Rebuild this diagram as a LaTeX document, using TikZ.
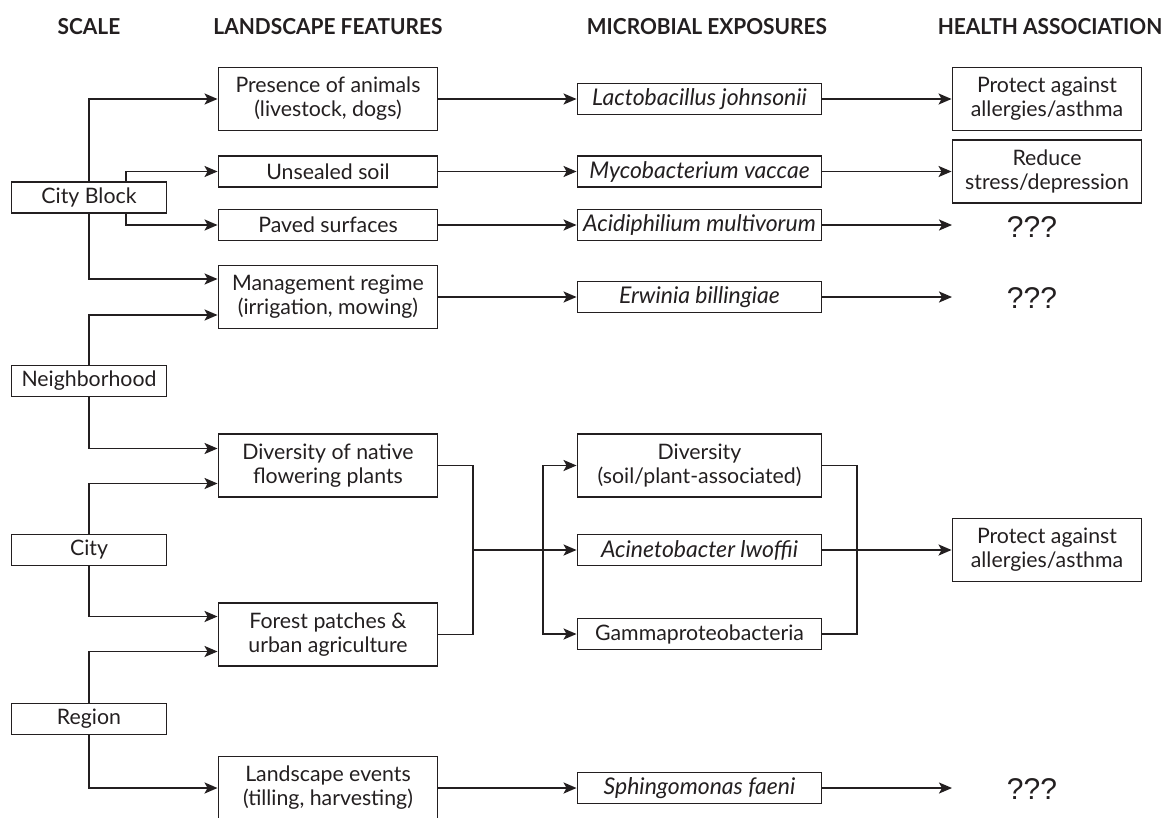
\documentclass[tikz,border=0pt]{standalone}
\usepackage{fontspec}
\setmainfont{Lato}
\newfontfamily\hdrfont[FakeStretch=0.95]{Lato}
\newfontfamily\qfont{Liberation Sans}
\usetikzlibrary{arrows.meta}
\definecolor{ink}{HTML}{231F20}
\newcommand\txtfont{\fontsize{21.3}{24}\selectfont}
\newcommand\itfont{\itshape\fontsize{23}{24}\selectfont}
\newcommand\headfont{\hdrfont\bfseries\fontsize{22}{24}\selectfont}

\begin{document}
\begin{tikzpicture}[x=1pt,y=-1pt,
  every node/.style={text=ink},
  box/.style={draw=ink, line width=1.9pt, inner sep=0pt, align=center, font=\txtfont},
  lvl/.style={box, minimum width=155pt, minimum height=31pt},
  feat/.style={box, minimum width=219pt, minimum height=31pt},
  mic/.style={box, minimum width=244pt, minimum height=31pt},
  hlth/.style={box, minimum width=189pt, minimum height=63pt},
  tall/.style={minimum height=63pt},
  sp/.style={font=\itfont},
  head/.style={font=\headfont, inner sep=0pt},
  qq/.style={font=\qfont\fontsize{30}{30}\selectfont, inner sep=0pt},
  link/.style={draw=ink, line width=1.9pt},
  arr/.style={link, -{Stealth[length=13pt,width=11pt,inset=3pt]}}
]
\useasboundingbox (0,0) rectangle (1166,817);

% column headings
\node[head] (hscale) at (89,27) {SCALE};
\node[head] (hland)  at (328,27) {LANDSCAPE FEATURES};
\node[head] (hmic)   at (707,27) {MICROBIAL EXPOSURES};
\node[head] (hhlth)  at (1050,27) {HEALTH ASSOCIATION};

% spatial scales
\node[lvl] (cityblock) at (89,197.5) {City Block};
\node[lvl] (neigh)     at (89,381)   {Neighborhood};
\node[lvl] (city)      at (89,550)   {City};
\node[lvl] (region)    at (89,719)   {Region};

% landscape features
\node[feat,tall] (animals) at (328,99)    {Presence of animals\\(livestock, dogs)};
\node[feat]      (soil)    at (328,171.5) {Unsealed soil};
\node[feat]      (paved)   at (328,225)   {Paved surfaces};
\node[feat,tall] (mgmt)    at (328,297)   {Management regime\\(irrigation, mowing)};
\node[feat,tall] (native)  at (328,465.5) {Diversity of native\\flowering plants};
\node[feat,tall] (forest)  at (328,634.5) {Forest patches \&\\urban agriculture};
\node[feat,tall] (events)  at (328,788)   {Landscape events\\(tilling, harvesting)};

% microbial exposures
\node[mic,sp] (lacto)   at (699.5,99)    {Lactobacillus johnsonii};
\node[mic,sp] (myco)    at (699.5,171.5) {Mycobacterium vaccae};
\node[mic,sp] (acidi)   at (699.5,225)   {Acidiphilium multivorum};
\node[mic,sp] (erwinia) at (699.5,297)   {Erwinia billingiae};
\node[mic,tall] (divsoil) at (699.5,465.5) {Diversity\\(soil/plant-associated)};
\node[mic,sp] (acin)    at (699.5,550)   {Acinetobacter lwoffii};
\node[mic] (gamma)      at (699.5,634)   {Gammaproteobacteria};
\node[mic,sp] (sphingo) at (699.5,788)   {Sphingomonas faeni};

% health associations
\node[hlth] (protA)  at (1047,99)    {Protect against\\allergies/asthma};
\node[hlth] (reduce) at (1047,171.5) {Reduce\\stress/depression};
\node[hlth] (protB)  at (1047,550)   {Protect against\\allergies/asthma};
\node[qq] (q1) at (1032,227) {???};
\node[qq] (q2) at (1032,298) {???};
\node[qq] (q3) at (1032,789) {???};
\coordinate (q1in) at (952,225);
\coordinate (q2in) at (952,297);
\coordinate (q3in) at (952,788);

% scale -> landscape features
\draw[arr] (cityblock.north) |- (animals.west);
\draw[arr] ([xshift=37pt]cityblock.north) |- (soil.west);
\draw[arr] ([xshift=37pt]cityblock.south) |- (paved.west);
\draw[arr] (cityblock.south) |- ([yshift=18pt]mgmt.west);
\draw[arr] (neigh.north) |- ([yshift=-18pt]mgmt.west);
\draw[arr] (neigh.south) |- ([yshift=17pt]native.west);
\draw[arr] (city.north) |- ([yshift=-18pt]native.west);
\draw[arr] (city.south) |- ([yshift=18pt]forest.west);
\draw[arr] (region.north) |- ([yshift=-17pt]forest.west);
\draw[arr] (region.south) |- (events.west);

% landscape features -> microbes
\draw[arr] (animals.east) -- (lacto.west);
\draw[arr] (soil.east) -- (myco.west);
\draw[arr] (paved.east) -- (acidi.west);
\draw[arr] (mgmt.east) -- (erwinia.west);
\draw[arr] (events.east) -- (sphingo.west);

% joint pathway through the diversity block
\coordinate (mergeL) at (473,550);
\coordinate (split)  at (543,550);
\coordinate (mergeR) at (857,550);
\draw[link] (native.east) -| (mergeL);
\draw[link] (forest.east) -| (mergeL);
\draw[arr] (mergeL) -- (acin.west);
\draw[arr] (split) |- (divsoil.west);
\draw[arr] (split) |- (gamma.west);
\draw[link] (divsoil.east) -| (mergeR);
\draw[link] (gamma.east) -| (mergeR);

% microbes -> health
\draw[arr] (lacto.east) -- (protA.west);
\draw[arr] (myco.east) -- (reduce.west);
\draw[arr] (acidi.east) -- (q1in);
\draw[arr] (erwinia.east) -- (q2in);
\draw[arr] (acin.east) -- (protB.west);
\draw[arr] (sphingo.east) -- (q3in);
\end{tikzpicture}
\end{document}
